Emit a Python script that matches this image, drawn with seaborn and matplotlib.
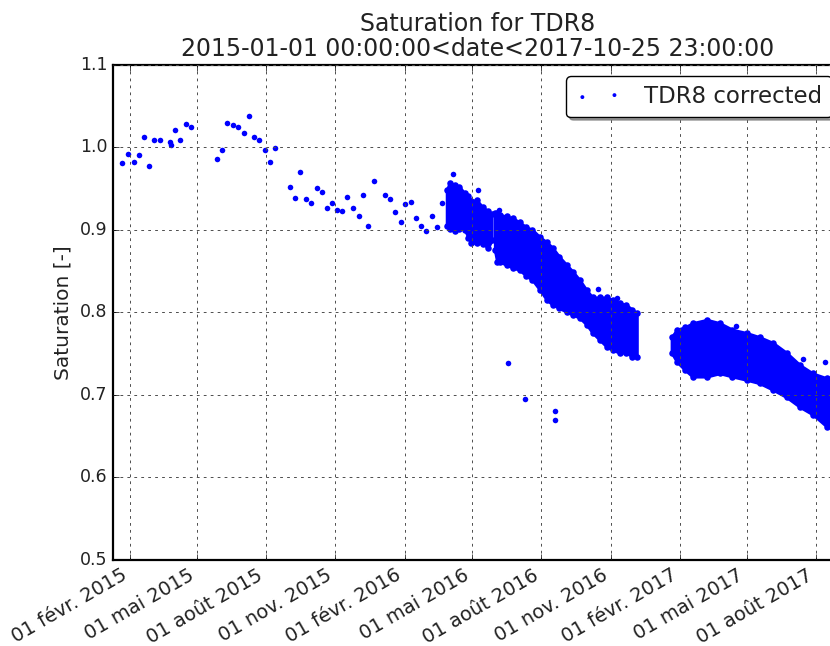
import pandas as pd
import matplotlib
matplotlib.use("Agg")
import matplotlib.pyplot as plt
import seaborn as sns

# sparse readings (2015 - early 2016) and isolated outliers
sparse_dates = [
    "2015-01-22", "2015-01-30", "2015-02-06", "2015-02-13", "2015-02-20", "2015-02-26",
    "2015-03-05", "2015-03-13", "2015-03-26", "2015-03-27", "2015-04-02", "2015-04-09",
    "2015-04-16", "2015-04-23", "2015-05-28", "2015-06-04", "2015-06-10", "2015-06-18",
    "2015-06-24", "2015-07-02", "2015-07-09", "2015-07-16", "2015-07-23", "2015-07-30",
    "2015-08-06", "2015-08-13", "2015-09-02", "2015-09-09", "2015-09-15", "2015-09-23",
    "2015-09-30", "2015-10-07", "2015-10-14", "2015-10-21", "2015-10-28", "2015-11-03",
    "2015-11-10", "2015-11-17", "2015-11-24", "2015-12-02", "2015-12-08", "2015-12-15",
    "2015-12-22", "2016-01-06", "2016-01-13", "2016-01-19", "2016-01-27", "2016-02-02",
    "2016-02-09", "2016-02-16", "2016-02-23", "2016-03-01", "2016-03-08", "2016-03-15",
    "2016-03-22", "2016-04-06", "2016-05-09", "2016-06-05", "2016-06-17", "2016-07-10",
    "2016-08-19", "2016-08-19", "2016-10-15", "2016-11-10", "2017-04-17", "2017-07-15",
    "2017-08-13",
]
sparse_values = [
    0.981, 0.992, 0.982, 0.990, 1.012, 0.977,
    1.009, 1.008, 1.006, 1.002, 1.021, 1.008,
    1.028, 1.024, 0.986, 0.996, 1.029, 1.027,
    1.024, 1.017, 1.038, 1.012, 1.009, 0.996,
    0.982, 0.999, 0.952, 0.938, 0.970, 0.937,
    0.932, 0.950, 0.946, 0.926, 0.932, 0.924,
    0.923, 0.940, 0.926, 0.917, 0.942, 0.904,
    0.959, 0.942, 0.937, 0.921, 0.909, 0.931,
    0.933, 0.914, 0.904, 0.898, 0.916, 0.903,
    0.932, 0.968, 0.948, 0.924, 0.739, 0.695,
    0.680, 0.670, 0.828, 0.817, 0.783, 0.743,
    0.740,
]

# dense hourly periods: lower / upper envelope of the point cloud
cloud1_dates = ["2016-03-28", "2016-04-01", "2016-04-08", "2016-04-14", "2016-04-21",
                "2016-04-26", "2016-04-30", "2016-05-07", "2016-05-15", "2016-05-22",
                "2016-05-27"]
cloud1_low = [0.904, 0.901, 0.898, 0.901, 0.900, 0.890, 0.884, 0.884, 0.883, 0.878, 0.887]
cloud1_high = [0.948, 0.957, 0.954, 0.952, 0.944, 0.941, 0.935, 0.936, 0.927, 0.923, 0.919]

cloud2_dates = ["2016-05-31", "2016-06-03", "2016-06-07", "2016-06-16", "2016-06-24",
                "2016-07-03", "2016-07-12", "2016-07-20", "2016-07-30", "2016-08-08",
                "2016-08-16", "2016-08-25", "2016-09-04", "2016-09-12", "2016-09-21",
                "2016-09-30", "2016-10-08", "2016-10-18", "2016-10-27", "2016-11-04",
                "2016-11-13", "2016-11-22", "2016-11-30", "2016-12-06"]
cloud2_low = [0.875, 0.861, 0.861, 0.857, 0.854, 0.851, 0.844, 0.839, 0.827, 0.815,
              0.809, 0.805, 0.800, 0.797, 0.793, 0.785, 0.775, 0.766, 0.758, 0.754,
              0.751, 0.751, 0.746, 0.746]
cloud2_high = [0.920, 0.920, 0.918, 0.916, 0.914, 0.909, 0.903, 0.900, 0.891, 0.885,
               0.878, 0.867, 0.857, 0.849, 0.839, 0.827, 0.818, 0.818, 0.818, 0.815,
               0.811, 0.809, 0.803, 0.799]

cloud3_dates = ["2017-01-21", "2017-01-28", "2017-02-08", "2017-02-18", "2017-03-09",
                "2017-03-26", "2017-04-12", "2017-05-01", "2017-05-18", "2017-06-05",
                "2017-06-23", "2017-07-11", "2017-07-28", "2017-08-16", "2017-09-15",
                "2017-10-25"]
cloud3_low = [0.751, 0.740, 0.730, 0.722, 0.722, 0.726, 0.722, 0.718, 0.714, 0.706,
              0.697, 0.685, 0.676, 0.661, 0.657, 0.655]
cloud3_high = [0.770, 0.779, 0.782, 0.787, 0.791, 0.787, 0.779, 0.775, 0.770, 0.763,
               0.751, 0.736, 0.726, 0.720, 0.720, 0.718]

tick_dates = ["2015-02-01", "2015-05-01", "2015-08-01", "2015-11-01", "2016-02-01",
              "2016-05-01", "2016-08-01", "2016-11-01", "2017-02-01", "2017-05-01",
              "2017-08-01"]
tick_labels = ["01 févr. 2015", "01 mai 2015", "01 août 2015", "01 nov. 2015",
               "01 févr. 2016", "01 mai 2016", "01 août 2016", "01 nov. 2016",
               "01 févr. 2017", "01 mai 2017", "01 août 2017"]

BLUE = "#0000ff"
TEXT = "#222222"

plt.style.use("classic")
plt.rcParams["font.family"] = ["DejaVu Sans"]

fig = plt.figure(figsize=(8.3, 6.46), dpi=100, facecolor="white")
# the original axes run past the right border of the picture
ax = fig.add_axes([113 / 830, 86 / 646, 730 / 830, 495.5 / 646])

clouds = [(cloud1_dates, cloud1_low, cloud1_high),
          (cloud2_dates, cloud2_low, cloud2_high),
          (cloud3_dates, cloud3_low, cloud3_high)]
for dates, low, high in clouds:
    d = pd.to_datetime(dates)
    ax.fill_between(d, low, high, color=BLUE, linewidth=2, edgecolor=BLUE)
    edge = pd.DataFrame({"date": list(d) * 2, "value": low + high})
    sns.scatterplot(data=edge, x="date", y="value", color=BLUE, s=22,
                    linewidth=0, ax=ax)

pts = pd.DataFrame({"date": pd.to_datetime(sparse_dates), "value": sparse_values})
sns.scatterplot(data=pts, x="date", y="value", color=BLUE, s=16, linewidth=0,
                label="TDR8 corrected", ax=ax)

ax.set_xlim(pd.Timestamp("2015-01-09 10:00"), pd.Timestamp("2017-09-06"))
ax.set_ylim(0.5, 1.1)
ax.set_xticks(pd.to_datetime(tick_dates))
ax.set_xticklabels(tick_labels, rotation=30, ha="right", fontsize=14, color=TEXT)
ax.tick_params(axis="y", labelsize=12.5, labelcolor=TEXT)
ax.tick_params(direction="in", top=True, right=True, length=4)
for s in ax.spines.values():
    s.set_linewidth(1.6)

# classic look: grid drawn over the points
ax.grid(True, color="0.3", linestyle=(0, (2, 3)), linewidth=0.7)
ax.set_axisbelow(False)

ax.set_xlabel("")
ax.set_ylabel("Saturation [-]", fontsize=14.5, color=TEXT)
ax.set_title("Saturation for TDR8\n2015-01-01 00:00:00<date<2017-10-25 23:00:00",
             fontsize=17, linespacing=1.05, color=TEXT, pad=6)

leg = ax.legend(loc="upper right", fancybox=True, shadow=True, scatterpoints=2,
                fontsize=16.5, markerscale=0.7, borderaxespad=0.5, handletextpad=1.0)
for t in leg.get_texts():
    t.set_color(TEXT)

fig.savefig("out.png", dpi=100, facecolor="white")
